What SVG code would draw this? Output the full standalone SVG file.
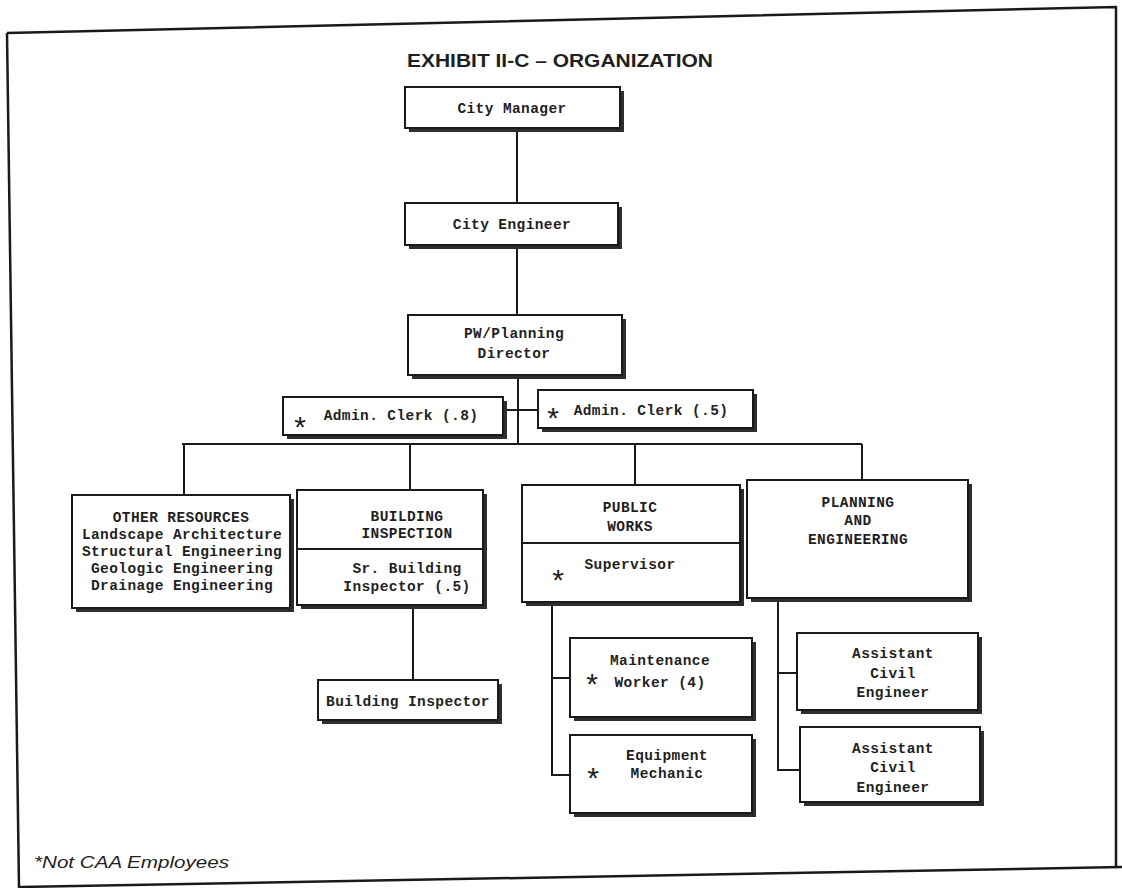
<svg xmlns="http://www.w3.org/2000/svg" width="1122" height="888" viewBox="0 0 1122 888">
<style>
.bg{fill:#ffffff}
.frame{fill:none;stroke:#1a1a1a;stroke-width:2.5}
.sh{fill:#2e2e2e}
.box{fill:#ffffff;stroke:#1a1a1a;stroke-width:2}
.ln{fill:none;stroke:#1a1a1a;stroke-width:2}
.t{font-family:"Liberation Mono","DejaVu Sans Mono",monospace;font-weight:bold;font-size:14.5px;fill:#1f1f1f;text-anchor:middle;letter-spacing:0.4px}
.st{font-family:"Liberation Sans",Arial,sans-serif;font-size:30px;fill:#1f1f1f;text-anchor:middle}
.title{font-family:"Liberation Sans",Arial,sans-serif;font-weight:bold;font-size:19px;fill:#1f1f1f}
.note{font-family:"Liberation Sans",Arial,sans-serif;font-style:italic;font-size:17px;fill:#1f1f1f}
</style>
<rect class="bg" x="0" y="0" width="1122" height="888"/>
<g id="frame">
<path class="frame" d="M7,33 L1116,7 L1116,866"/>
<path class="frame" d="M7,33 L19,888"/>
<path class="frame" d="M20,887 L1122,867"/>
</g>
<text class="title" x="407" y="67" textLength="306" lengthAdjust="spacingAndGlyphs">EXHIBIT II-C – ORGANIZATION</text>

<g id="connectors">
<path class="ln" d="M517,128 V203"/>
<path class="ln" d="M517,245 V315"/>
<path class="ln" d="M518,375 V444"/>
<path class="ln" d="M503,410 H538"/>
<path class="ln" d="M182,444 H862"/>
<path class="ln" d="M184,444 V495"/>
<path class="ln" d="M410,444 V490"/>
<path class="ln" d="M635,444 V485"/>
<path class="ln" d="M862,444 V480"/>
<path class="ln" d="M413,607 V680"/>
<path class="ln" d="M552,604 V775 H570"/>
<path class="ln" d="M552,678 H570"/>
<path class="ln" d="M778,600 V770 H800"/>
<path class="ln" d="M778,673 H797"/>
</g>

<g id="city-manager">
<rect class="sh" x="409" y="91" width="215" height="41"/>
<rect class="box" x="405" y="87" width="215" height="41"/>
<text class="t" x="512" y="113">City Manager</text>
</g>

<g id="city-engineer">
<rect class="sh" x="409" y="207" width="213" height="42"/>
<rect class="box" x="405" y="203" width="213" height="42"/>
<text class="t" x="512" y="229">City Engineer</text>
</g>

<g id="pw-director">
<rect class="sh" x="412" y="319" width="214" height="60"/>
<rect class="box" x="408" y="315" width="214" height="60"/>
<text class="t" x="514" y="338">PW/Planning</text>
<text class="t" x="514" y="358">Director</text>
</g>

<g id="admin-clerk-8">
<rect class="sh" x="287" y="401" width="220" height="38"/>
<rect class="box" x="283" y="397" width="220" height="38"/>
<text class="st" x="300" y="437">*</text>
<text class="t" x="401" y="420">Admin. Clerk (.8)</text>
</g>

<g id="admin-clerk-5">
<rect class="sh" x="542" y="394" width="215" height="38"/>
<rect class="box" x="538" y="390" width="215" height="38"/>
<text class="st" x="553" y="428">*</text>
<text class="t" x="651" y="415">Admin. Clerk (.5)</text>
</g>

<g id="other-resources">
<rect class="sh" x="76" y="499" width="218" height="113"/>
<rect class="box" x="72" y="495" width="218" height="113"/>
<text class="t" x="181" y="522">OTHER RESOURCES</text>
<text class="t" x="182" y="539">Landscape Architecture</text>
<text class="t" x="182" y="556">Structural Engineering</text>
<text class="t" x="182" y="573">Geologic Engineering</text>
<text class="t" x="182" y="590">Drainage Engineering</text>
</g>

<g id="building-inspection">
<rect class="sh" x="301" y="494" width="186" height="115"/>
<rect class="box" x="297" y="490" width="186" height="115"/>
<path class="ln" d="M297,549 H483"/>
<text class="t" x="407" y="521">BUILDING</text>
<text class="t" x="407" y="538">INSPECTION</text>
<text class="t" x="407" y="573">Sr. Building</text>
<text class="t" x="407" y="591">Inspector (.5)</text>
</g>

<g id="public-works">
<rect class="sh" x="526" y="489" width="218" height="117"/>
<rect class="box" x="522" y="485" width="218" height="117"/>
<path class="ln" d="M522,543 H740"/>
<text class="t" x="630" y="512">PUBLIC</text>
<text class="t" x="630" y="531">WORKS</text>
<text class="st" x="558" y="590">*</text>
<text class="t" x="630" y="569">Supervisor</text>
</g>

<g id="planning-engineering">
<rect class="sh" x="751" y="484" width="221" height="118"/>
<rect class="box" x="747" y="480" width="221" height="118"/>
<text class="t" x="858" y="507">PLANNING</text>
<text class="t" x="858" y="525">AND</text>
<text class="t" x="858" y="544">ENGINEERING</text>
</g>

<g id="building-inspector">
<rect class="sh" x="322" y="684" width="180" height="40"/>
<rect class="box" x="318" y="680" width="180" height="40"/>
<text class="t" x="408" y="706">Building Inspector</text>
</g>

<g id="maintenance-worker">
<rect class="sh" x="574" y="642" width="182" height="79"/>
<rect class="box" x="570" y="638" width="182" height="79"/>
<text class="st" x="592" y="694">*</text>
<text class="t" x="660" y="665">Maintenance</text>
<text class="t" x="660" y="687">Worker (4)</text>
</g>

<g id="equipment-mechanic">
<rect class="sh" x="574" y="739" width="182" height="78"/>
<rect class="box" x="570" y="735" width="182" height="78"/>
<text class="st" x="593" y="788">*</text>
<text class="t" x="667" y="760">Equipment</text>
<text class="t" x="667" y="778">Mechanic</text>
</g>

<g id="assistant-civil-engineer-1">
<rect class="sh" x="801" y="637" width="181" height="77"/>
<rect class="box" x="797" y="633" width="181" height="77"/>
<text class="t" x="893" y="658">Assistant</text>
<text class="t" x="893" y="678">Civil</text>
<text class="t" x="893" y="697">Engineer</text>
</g>

<g id="assistant-civil-engineer-2">
<rect class="sh" x="804" y="731" width="180" height="75"/>
<rect class="box" x="800" y="727" width="180" height="75"/>
<text class="t" x="893" y="753">Assistant</text>
<text class="t" x="893" y="772">Civil</text>
<text class="t" x="893" y="792">Engineer</text>
</g>

<text class="note" x="34" y="868" textLength="195" lengthAdjust="spacingAndGlyphs">*Not CAA Employees</text>
</svg>
